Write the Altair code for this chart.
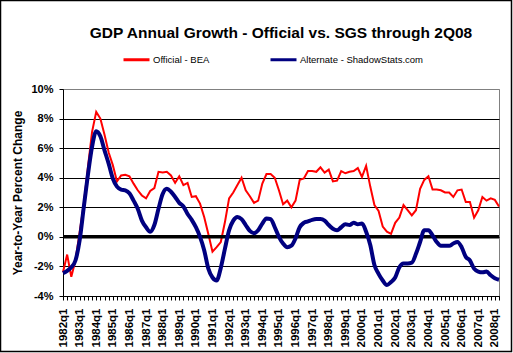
import json
import altair as alt
import pandas as pd

years = list(range(1982, 2009))
quarter_names = ["q1", "q2", "q3", "q4"]
quarters = [f"{y}{q}" for y in years for q in quarter_names][:106]

official = [
    -2.4, -1.2, -2.7, -1.6, 0.3, 2.2, 4.7, 7.1, 8.45, 8.0,
    6.9, 5.7, 4.85, 3.75, 4.15, 4.2, 4.1, 3.6, 3.15, 2.8,
    2.6, 3.1, 3.3, 4.4, 4.35, 4.4, 4.15, 3.65, 4.1, 3.5,
    3.65, 2.7, 2.75, 2.25, 1.35, 0.2, -1.0, -0.7, -0.35, 1.0,
    2.6, 3.0, 3.5, 4.0, 3.15, 2.75, 2.3, 2.45, 3.6, 4.25,
    4.25, 4.0, 3.15, 2.2, 2.45, 2.0, 2.45, 3.85, 3.95, 4.45,
    4.45, 4.4, 4.7, 4.35, 4.55, 3.75, 3.8, 4.45, 4.3, 4.4,
    4.45, 4.65, 4.05, 4.8, 3.4, 2.15, 1.75, 0.7, 0.35, 0.2,
    0.95, 1.3, 2.15, 1.8, 1.45, 1.8, 3.25, 3.85, 4.1, 3.2,
    3.2, 3.15, 3.0, 3.0, 2.7, 3.15, 3.2, 2.35, 2.35, 1.3,
    1.8, 2.7, 2.45, 2.6, 2.5, 2.05,
]
alternate = [
    -2.45, -2.3, -2.05, -1.6, -0.25, 2.0, 4.2, 6.1, 7.15, 6.8,
    5.85, 4.95, 3.95, 3.4, 3.2, 3.15, 2.95, 2.45, 1.9, 1.1,
    0.65, 0.35, 0.8, 1.9, 2.9, 3.25, 3.05, 2.7, 2.3, 2.05,
    1.55, 1.15, 0.65, 0.0, -0.9, -2.15, -2.75, -2.95, -2.1, -0.8,
    0.45, 1.1, 1.35, 1.2, 0.8, 0.4, 0.25, 0.45, 0.9, 1.25,
    1.2, 0.65, 0.0, -0.45, -0.7, -0.6, -0.1, 0.65, 0.95, 1.05,
    1.15, 1.2, 1.2, 1.1, 0.8, 0.55, 0.45, 0.65, 0.85, 0.8,
    0.95, 0.85, 0.9, 0.35, -0.55, -1.9, -2.5, -2.95, -3.25, -3.05,
    -2.75, -2.05, -1.8, -1.8, -1.75, -1.15, -0.35, 0.45, 0.45, 0.1,
    -0.35, -0.6, -0.6, -0.6, -0.45, -0.35, -0.7, -1.35, -1.6, -2.15,
    -2.35, -2.4, -2.35, -2.6, -2.8, -2.9,
]
series_names = ["Official - BEA", "Alternate - ShadowStats.com"]
series_colors = ["#FF0000", "#000080"]
y_ticks = [-4, -2, 0, 2, 4, 6, 8, 10]
zero_line = [0]
title_text = "GDP Annual Growth - Official vs. SGS through 2Q08"
y_title = "Year-to-Year Percent Change"

FONT = "Liberation Sans"
W, H = 436, 207
n = len(quarters)

df = pd.DataFrame({
    "qi": list(range(n)) * 2,
    "quarter": quarters * 2,
    "value": official + alternate,
    "series": [series_names[0]] * len(official) + [series_names[1]] * len(alternate),
})

label_lookup = json.dumps(quarters)
x_enc = alt.X(
    "qi:Q",
    scale=alt.Scale(domain=[0, n - 1], nice=False, zero=False),
    axis=alt.Axis(
        values=list(range(n)),
        labelExpr=f"indexof({label_lookup}[datum.value], 'q1') >= 0 ? {label_lookup}[datum.value] : ''",
        labelAngle=270, labelAlign="right", labelBaseline="middle",
        labelOverlap=False, labelFlush=False, labelBound=False,
        labelFont=FONT, labelFontWeight="bold",
        labelFontSize=11.5, labelColor="black", labelPadding=8,
        tickSize=4, tickColor="black", domainColor="black",
        grid=False, title=None,
    ),
)
y_enc = alt.Y(
    "value:Q",
    scale=alt.Scale(domain=[-4, 10], nice=False, zero=False),
    axis=alt.Axis(
        values=y_ticks,
        labelExpr="datum.value + '%'",
        labelOverlap=False, labelFlush=False,
        labelFont=FONT, labelFontWeight="bold", labelFontSize=11,
        labelColor="black", labelPadding=6,
        tickSize=4, tickColor="black", domainColor="black",
        grid=True,
        gridColor=alt.condition("datum.value == 10", alt.value("#808080"), alt.value("black")),
        gridWidth=1,
        title=y_title, titleFont=FONT, titleFontSize=12, titleFontWeight="bold",
        titleColor="black", titleAngle=270, titleX=-42, titleY=H / 2,
        titleAlign="center", titleBaseline="alphabetic",
    ),
)
color_enc = alt.Color(
    "series:N",
    scale=alt.Scale(domain=series_names, range=series_colors),
    legend=alt.Legend(
        orient="none", legendX=59, legendY=-44, direction="horizontal",
        title=None, symbolType="stroke", symbolSize=676, symbolStrokeWidth=3,
        labelFont=FONT, labelFontSize=9.5, labelColor="black",
        columnPadding=54, padding=0, labelOffset=2,
    ),
)

base = alt.Chart(df)
red = base.transform_filter(alt.datum.series == series_names[0]).mark_line(
    strokeWidth=2
).encode(x=x_enc, y=y_enc, color=color_enc)
blue = base.transform_filter(alt.datum.series == series_names[1]).mark_line(
    strokeWidth=4, interpolate="monotone"
).encode(x=x_enc, y=y_enc, color=color_enc)

zero = alt.Chart(pd.DataFrame({"value": zero_line})).mark_rule(
    color="black", strokeWidth=3.5
).encode(y=y_enc)

border = alt.Chart(pd.DataFrame({"k": [0]})).mark_rect(
    fillOpacity=0, stroke="black", strokeWidth=1.5
).encode(
    x=alt.value(-62.5), x2=alt.value(448.5),
    y=alt.value(-88.5), y2=alt.value(262.5),
)

chart = alt.layer(red, zero, blue, border).properties(
    width=W, height=H,
    title=alt.TitleParams(
        title_text, font=FONT, fontSize=15.5, fontWeight="bold",
        color="black", anchor="middle", offset=-42,
    ),
    autosize=alt.AutoSizeParams(type="none"),
    padding={"left": 63, "top": 89, "right": 14, "bottom": 57},
    background="white",
).configure_view(stroke="#808080", strokeWidth=1)

chart.save("out.html", embed_options={"renderer": "svg", "actions": False})
